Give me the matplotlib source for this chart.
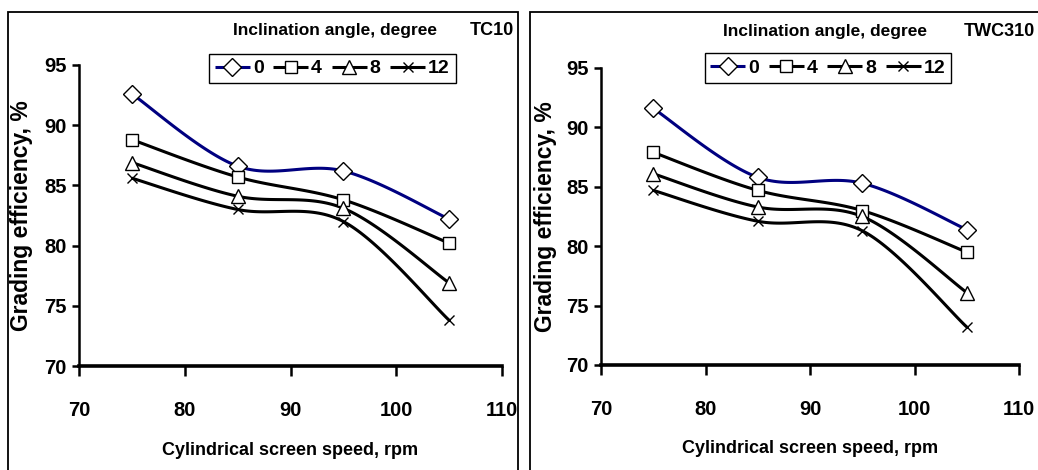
import numpy as np
import matplotlib
matplotlib.use("Agg")
import matplotlib.pyplot as plt
from matplotlib.patches import Rectangle
from matplotlib.legend_handler import HandlerTuple

# ---------------- data ----------------
speed = [75, 85, 95, 105]
angles = ["0", "4", "8", "12"]

tc10_0 = [92.6, 86.6, 86.2, 82.2]
tc10_4 = [88.8, 85.7, 83.8, 80.2]
tc10_8 = [86.9, 84.1, 83.1, 76.9]
tc10_12 = [85.6, 83.0, 82.0, 73.8]

twc310_0 = [91.6, 85.8, 85.3, 81.4]
twc310_4 = [87.9, 84.7, 83.0, 79.5]
twc310_8 = [86.1, 83.3, 82.5, 76.1]
twc310_12 = [84.7, 82.1, 81.3, 73.2]

panel_names = ["TC10", "TWC310"]
xticks = [70, 80, 90, 100, 110]
yticks = [70, 75, 80, 85, 90, 95]
xlabel = "Cylindrical screen speed, rpm"
ylabel = "Grading efficiency, %"
legend_title = "Inclination angle, degree"

NARROW = ["Liberation Sans Narrow", "Liberation Sans", "DejaVu Sans"]
WIDE = ["Liberation Sans", "DejaVu Sans"]

series_style = [
    dict(color="#000080", marker="D", ms=9),
    dict(color="black", marker="s", ms=9),
    dict(color="black", marker="^", ms=10),
    dict(color="black", marker="x", ms=7),
]


def smooth(xs, ys, n=40):
    """Excel-like smoothed curve: cubic Bezier through points."""
    P = np.column_stack([xs, ys]).astype(float)
    m = len(P)
    out = []
    for i in range(m - 1):
        p0 = P[max(i - 1, 0)]
        p1 = P[i]
        p2 = P[i + 1]
        p3 = P[min(i + 2, m - 1)]
        c1 = p1 + (p2 - p0) / 6.0
        c2 = p2 - (p3 - p1) / 6.0
        t = np.linspace(0, 1, n)[:, None]
        seg = ((1 - t) ** 3) * p1 + 3 * ((1 - t) ** 2) * t * c1 + 3 * (1 - t) * t ** 2 * c2 + t ** 3 * p2
        if i > 0:
            seg = seg[1:]
        out.append(seg)
    out = np.vstack(out)
    return out[:, 0], out[:, 1]


W, H = 1038, 470
fig = plt.figure(figsize=(W / 100, H / 100), dpi=100)

# panel frames (pixel -> figure fraction)
for (x0, x1) in [(8, 518), (530, 1045)]:
    fig.patches.append(Rectangle((x0 / W, -0.05), (x1 - x0) / W, 1.05 - 12 / H,
                                 transform=fig.transFigure, fill=False,
                                 edgecolor="black", linewidth=1.3))

panels = [
    dict(box=(79, 502, 65, 366), data=[tc10_0, tc10_4, tc10_8, tc10_12],
         leg=(0.599, 1.037), title=(0.605, 1.113), name=(1.028, 1.113),
         ylab=-0.135),
    dict(box=(601, 1019, 68, 365), data=[twc310_0, twc310_4, twc310_8, twc310_12],
         leg=(0.543, 1.049), title=(0.535, 1.123), name=(1.039, 1.123),
         ylab=-0.133),
]

for p, name in zip(panels, panel_names):
    x0, x1, yt, yb = p["box"]
    ax = fig.add_axes([x0 / W, (H - yb) / H, (x1 - x0) / W, (yb - yt) / H])
    ax.set_xlim(70, 110)
    ax.set_ylim(70, 95)
    handles = []
    for vals, st in zip(p["data"], series_style):
        sx, sy = smooth(speed, vals)
        ln, = ax.plot(sx, sy, color=st["color"], lw=2.2, solid_capstyle="butt", zorder=2)
        mk, = ax.plot(speed, vals, linestyle="none", marker=st["marker"], ms=st["ms"],
                      mfc="white", mec="black", mew=1.0, zorder=3)
        handles.append((ln, mk))

    for s in ["top", "right"]:
        ax.spines[s].set_visible(False)
    ax.spines["left"].set_linewidth(1.8)
    ax.spines["bottom"].set_linewidth(2.6)
    ax.set_xticks(xticks)
    ax.set_yticks(yticks)
    ax.tick_params(axis="x", direction="out", length=7, width=1.8, pad=18)
    ax.tick_params(axis="y", direction="out", length=5, width=1.8, pad=4)
    for lab in ax.get_xticklabels() + ax.get_yticklabels():
        lab.set_family(NARROW)
        lab.set_fontweight("bold")
        lab.set_fontsize(14.5)

    ax.set_xlabel(xlabel, family=NARROW, fontweight="bold", fontsize=13)
    ax.xaxis.set_label_coords(0.5, -0.281)
    ax.xaxis.label.set_va("center")
    ax.set_ylabel(ylabel, family=WIDE, fontweight="bold", fontsize=16.5)
    ax.yaxis.set_label_coords(p["ylab"], 0.5)
    ax.yaxis.label.set_va("center")

    leg = ax.legend(handles, angles, loc="upper center", bbox_to_anchor=p["leg"],
                    ncol=4, frameon=True, fancybox=False, edgecolor="black",
                    framealpha=1, borderpad=0.3, handlelength=1.8, handletextpad=0.15,
                    columnspacing=0.5, borderaxespad=0,
                    handler_map={tuple: HandlerTuple(ndivide=1, pad=0)},
                    prop=dict(family=NARROW, weight="bold", size=14))
    leg.get_frame().set_linewidth(1.0)

    ax.text(p["title"][0], p["title"][1], legend_title, transform=ax.transAxes,
            ha="center", va="center", family=NARROW, fontweight="bold", fontsize=12.5)
    ax.text(p["name"][0], p["name"][1], name, transform=ax.transAxes,
            ha="right", va="center", family=NARROW, fontweight="bold", fontsize=13)

fig.savefig("out.png", dpi=100)
